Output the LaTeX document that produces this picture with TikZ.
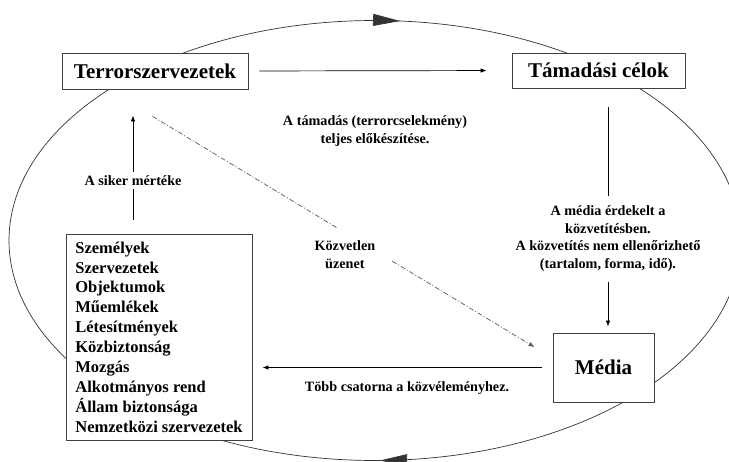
\documentclass[tikz,border=0pt]{standalone}
\usepackage{fontspec}
\setmainfont{Liberation Serif}
\usetikzlibrary{arrows.meta}
\usetikzlibrary{decorations.markings}

\begin{document}
\begin{tikzpicture}[x=1pt, y=-1pt,
    box/.style={draw=black!75, line width=0.9pt, fill=white, inner sep=0pt,
                font=\fontsize{21}{25}\selectfont\bfseries},
    lbl/.style={fill=white, text=black, align=center, font=\fontsize{14.2}{17.5}\selectfont\bfseries},
    conn/.style={line width=0.7pt, -{Latex[length=6pt,width=4.5pt]}},
    msgline/.style={black!65, line width=0.7pt, dash pattern=on 5pt off 2pt on 1pt off 2pt},
    cycleline/.style={black!80, line width=0.7pt, postaction={decorate},
        decoration={markings,
          mark=at position 0.2473 with {\arrow{Triangle[length=27pt,width=12pt]}},
          mark=at position 0.7634 with {\arrow{Triangle[length=27pt,width=12pt]}}}}]
    \useasboundingbox (0,0) rectangle (729,462);

    % draw the big cycle
    \begin{scope}
      \clip (0,0) rectangle (729,462);
      \draw[cycleline] (375,240.5) ellipse [x radius=366, y radius=220];
    \end{scope}

    % draw boxes
    \node[box, minimum width=186pt, minimum height=36pt] (terror) at (155,71) {Terrorszervezetek};
    \node[box, minimum width=173pt, minimum height=35pt] (celok) at (598.5,70.5) {Támadási célok};
    \node[box, minimum width=101pt, minimum height=69pt] (media) at (603.5,367.5) {Média};
    \node[box, minimum width=186pt, minimum height=206pt, align=left,
          font=\fontsize{16.5}{19.9}\selectfont\bfseries] (items) at (159,337)
      {Személyek\\Szervezetek\\Objektumok\\Műemlékek\\Létesítmények\\Közbiztonság\\Mozgás\\Alkotmányos rend\\Állam biztonsága\\Nemzetközi szervezetek};

    % free label
    \node[lbl] (prep) at (375,131) {A támadás (terrorcselekmény)\\teljes előkészítése.};

    % draw connectors
    \draw[conn, shorten <=11pt, shorten >=25pt] (terror.east) -- (celok.west);
    \draw[conn, shorten <=19pt, shorten >=6pt] ([xshift=9.5pt]celok.south) -- ([xshift=4.5pt]media.north)
      node[lbl, pos=0.616, inner ysep=10pt] {A média érdekelt a\\közvetítésben.\\A közvetítés nem ellenőrizhető\\(tartalom, forma, idő).};
    \draw[conn, shorten <=11pt, shorten >=10pt] (media.west) -- (media.west -| items.east)
      node[lbl, pos=0.485, below=10pt, fill=none] {Több csatorna a közvéleményhez.};
    \draw[conn, shorten <=14pt, shorten >=26pt] ([xshift=-26pt]items.north) -- ([xshift=-22pt]terror.south)
      node[lbl, pos=0.37] {A siker mértéke};
    \draw[msgline, conn, shorten <=52pt, shorten >=21pt] ([xshift=-47pt]terror.south) -- ([yshift=9.5pt]media.west)
      node[lbl, pos=0.533, yshift=-22pt, inner xsep=16pt, inner ysep=13pt] {Közvetlen\\üzenet};
\end{tikzpicture}
\end{document}
